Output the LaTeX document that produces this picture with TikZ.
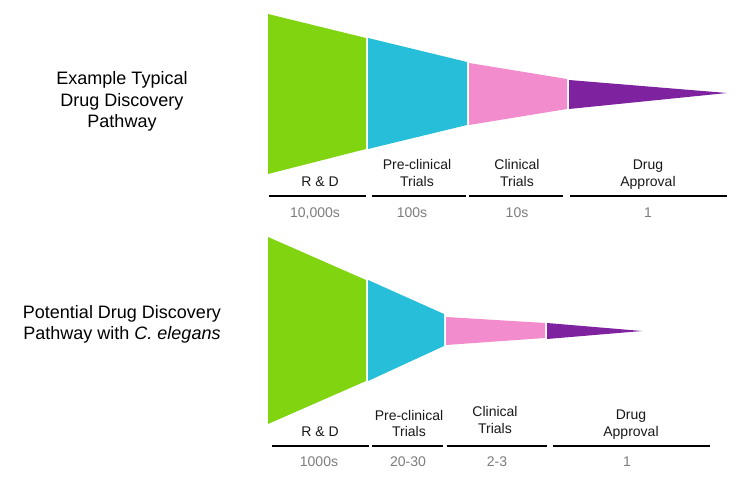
\documentclass[tikz,border=0pt]{standalone}
\usepackage{fontspec}
\setmainfont{Liberation Sans}
\definecolor{rdgreen}{RGB}{128,212,16}
\definecolor{precyan}{RGB}{38,190,216}
\definecolor{clinpink}{RGB}{242,140,204}
\definecolor{apppurple}{RGB}{126,34,160}
\definecolor{numgray}{RGB}{125,125,125}
\begin{document}
\begin{tikzpicture}[x=1pt,y=-1pt,
  title/.style={align=center,anchor=base,font=\fontsize{18}{21.5}\selectfont,text=black,inner sep=0pt},
  stage/.style={align=center,anchor=base,font=\fontsize{14}{17}\selectfont,text=black!90,inner sep=0pt},
  count/.style={anchor=base,font=\fontsize{14}{17}\selectfont,text=numgray,inner sep=0pt},
  rule/.style={line width=2.6pt,black}]
\useasboundingbox (0,0) rectangle (748,481);
\fill[white] (0,0) rectangle (748,481);

% ---- top funnel ----
\fill[rdgreen] (268,14) -- (366,38) -- (366,149) -- (268,174) -- cycle;
\fill[precyan] (368,38) -- (467,62) -- (467,125) -- (368,149) -- cycle;
\fill[clinpink] (469,63) -- (567,79) -- (567,109) -- (469,125) -- cycle;
\fill[apppurple] (569,80) -- (727,93) -- (569,109) -- cycle;

\node[title] (t1) at (122,128) {Example Typical\\Drug Discovery\\Pathway};

\node[stage] (a1) at (320,187) {R \& D};
\node[stage] (a2) at (417,187) {Pre-clinical\\Trials};
\node[stage] (a3) at (517,187) {Clinical\\Trials};
\node[stage] (a4) at (648,187) {Drug\\Approval};

\draw[rule] (269,196) -- (366,196);
\draw[rule] (372,196) -- (466,196);
\draw[rule] (469,196) -- (563,196);
\draw[rule] (570,196) -- (727,196);

\node[count] (n1) at (315,218) {10,000s};
\node[count] (n2) at (412,218) {100s};
\node[count] (n3) at (517,218) {10s};
\node[count] (n4) at (648,218) {1};

% ---- bottom funnel ----
\fill[rdgreen] (268,237) -- (366,280) -- (366,381) -- (268,424) -- cycle;
\fill[precyan] (368,280) -- (444,314) -- (444,346) -- (368,381) -- cycle;
\fill[clinpink] (446,317) -- (545,323) -- (545,338) -- (446,345) -- cycle;
\fill[apppurple] (547,323) -- (642,331) -- (547,339) -- cycle;

\node[title] (t2) at (122,340) {Potential Drug Discovery\\Pathway with \textit{C. elegans}};

\node[stage] (b1) at (320,437) {R \& D};
\node[stage] (b2) at (409,437) {Pre-clinical\\Trials};
\node[stage] (b3) at (495,433) {Clinical\\Trials};
\node[stage] (b4) at (631,436) {Drug\\Approval};

\draw[rule] (272,446) -- (369,446);
\draw[rule] (372,446) -- (443,446);
\draw[rule] (447,446) -- (547,446);
\draw[rule] (553,446) -- (710,446);

\node[count] (m1) at (319,467) {1000s};
\node[count] (m2) at (408,467) {20-30};
\node[count] (m3) at (497,467) {2-3};
\node[count] (m4) at (627,467) {1};
\end{tikzpicture}
\end{document}
